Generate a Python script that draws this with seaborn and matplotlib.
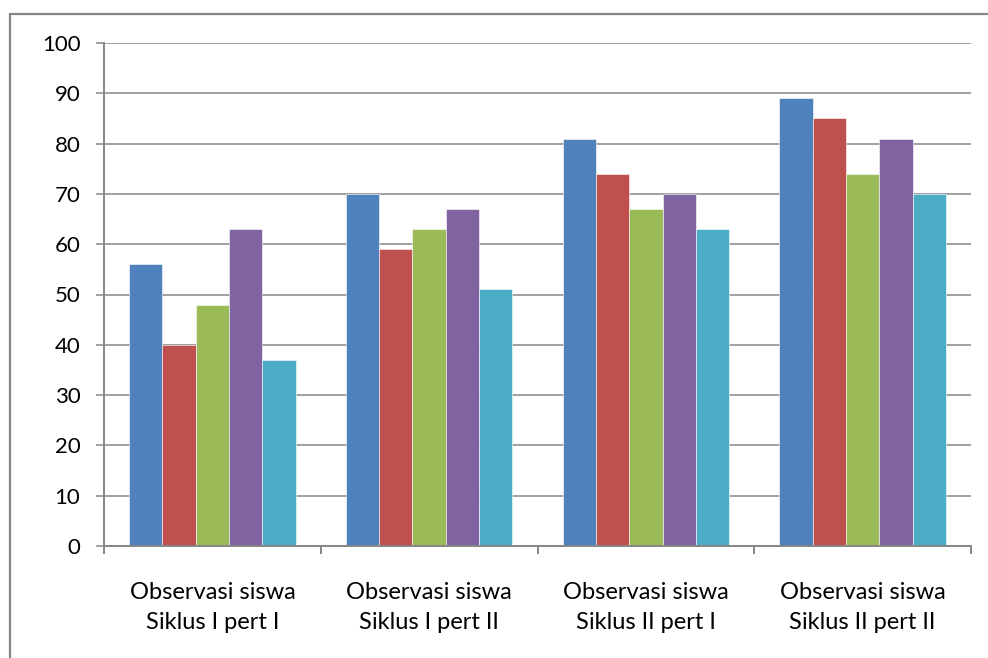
import matplotlib
matplotlib.use("Agg")
import matplotlib.pyplot as plt
from matplotlib.lines import Line2D
from matplotlib.ticker import FixedLocator
import seaborn as sns
import pandas as pd

categories = [
    "Observasi siswa\nSiklus I pert I",
    "Observasi siswa\nSiklus I pert II",
    "Observasi siswa\nSiklus II pert I",
    "Observasi siswa\nSiklus II pert II",
]
series_names = ["Seri 1", "Seri 2", "Seri 3", "Seri 4", "Seri 5"]
series_1 = [56, 70, 81, 89]
series_2 = [40, 59, 74, 85]
series_3 = [48, 63, 67, 74]
series_4 = [63, 67, 70, 81]
series_5 = [37, 51, 63, 70]
y_ticks = [0, 10, 20, 30, 40, 50, 60, 70, 80, 90, 100]

colors = ["#4F81BD", "#C0504D", "#9BBB59", "#8064A2", "#4BACC6"]
grid_color = "#868686"

rows = []
for name, vals in zip(series_names, [series_1, series_2, series_3, series_4, series_5]):
    for cat, v in zip(categories, vals):
        rows.append({"kategori": cat, "seri": name, "nilai": v})
df = pd.DataFrame(rows)

sns.set_theme(style="white")
plt.rcParams["font.family"] = ["Lato", "DejaVu Sans"]

W, H = 988, 658
fig = plt.figure(figsize=(W / 100, H / 100), dpi=100)
ax = fig.add_axes([104 / W, (H - 546) / H, (971 - 104) / W, (546 - 43) / H])

sns.barplot(
    data=df, x="kategori", y="nilai", hue="seri", order=categories,
    hue_order=series_names, palette=colors, width=5 / 6.5, gap=0,
    saturation=1, edgecolor="#ffffff", linewidth=0.4, legend=False, ax=ax,
    errorbar=None,
)

ax.set_xlim(-0.5, len(categories) - 0.5)
ax.set_ylim(0, 100)
ax.set_yticks(y_ticks)
ax.set_yticklabels([str(t) for t in y_ticks])
ax.set_xlabel("")
ax.set_ylabel("")

ax.yaxis.grid(True, color=grid_color, linewidth=1.1)
ax.set_axisbelow(True)

for side in ["top", "right"]:
    ax.spines[side].set_visible(False)
for side in ["left", "bottom"]:
    ax.spines[side].set_color(grid_color)
    ax.spines[side].set_linewidth(1.4)

ax.tick_params(axis="y", which="major", left=True, length=6, width=1.1,
               color=grid_color, pad=11, labelsize=16, labelcolor="#000000")
ax.tick_params(axis="x", which="major", bottom=False, length=0, pad=26,
               labelsize=17, labelcolor="#000000")
ax.xaxis.set_minor_locator(FixedLocator([i - 0.5 for i in range(len(categories) + 1)]))
ax.tick_params(axis="x", which="minor", bottom=True, length=6, width=1.4,
               color=grid_color)
for lbl in ax.get_xticklabels():
    lbl.set_linespacing(1.5)

# outer chart frame
fig.add_artist(Line2D([10 / W, 10 / W], [0, 1 - 14 / H], transform=fig.transFigure,
                      color=grid_color, linewidth=1.6))
fig.add_artist(Line2D([10 / W, 1.0], [1 - 14 / H, 1 - 14 / H], transform=fig.transFigure,
                      color=grid_color, linewidth=1.6))

fig.savefig("out.png", dpi=100)
